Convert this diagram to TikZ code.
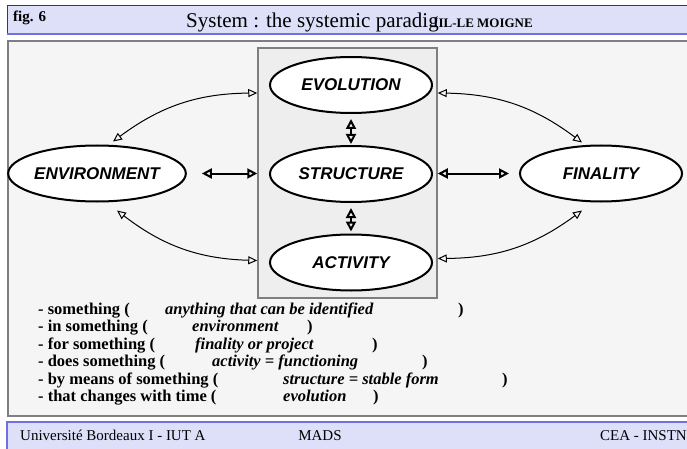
\documentclass[tikz,border=0pt]{standalone}
\usepackage{fontspec}
\setmainfont{Liberation Serif}
\newfontfamily\arialf{Liberation Sans}
\usetikzlibrary{arrows.meta,shapes.geometric}
\definecolor{hdrfill}{HTML}{DDE0F8}
\definecolor{hdrtop}{HTML}{2828E0}
\definecolor{hdrbot}{HTML}{7070E0}
\definecolor{panelfill}{HTML}{F5F5F5}
\definecolor{boxfill}{HTML}{EEEEEE}
\definecolor{bordergray}{HTML}{7F7F7F}
\tikzset{
  ell/.style={ellipse, draw=black, line width=2pt, fill=white, minimum width=162pt, minimum height=56pt, inner sep=0pt,
    font=\arialf\bfseries\itshape\fontsize{17}{20}\selectfont},
  innerbox/.style={rectangle, draw=bordergray, line width=1.5pt, fill=boxfill, minimum width=179pt, minimum height=250pt, inner sep=0pt},
  thickarr/.style={line width=2pt, {Triangle[open,length=10pt,width=10pt]}-{Triangle[open,length=10pt,width=10pt]}},
  thinarr/.style={line width=1pt, {Triangle[open,length=9pt,width=8pt]}-{Triangle[open,length=9pt,width=8pt]}},
  listb/.style={anchor=base west, inner sep=0pt, font=\bfseries\fontsize{16.5}{18}\selectfont},
  listi/.style={anchor=base west, inner sep=0pt, font=\bfseries\itshape\fontsize{16.5}{18}\selectfont},
  foot/.style={inner sep=0pt, font=\fontsize{15}{18}\selectfont},
}
\begin{document}
\begin{tikzpicture}[x=1pt,y=-1pt]
\useasboundingbox (0,0) rectangle (687,449);
\fill[white] (0,0) rectangle (687,449);
% header band
\fill[hdrfill] (7,6) rectangle (700,34);
\draw[hdrtop, line width=1pt] (700,6) -- (7,6) -- (7,34);
\draw[hdrbot, line width=2pt] (7,34) -- (700,34);
% main panel
\draw[bordergray, fill=panelfill, line width=2pt] (8,41) rectangle (700,416);
% footer band
\fill[hdrfill] (7,422) rectangle (700,460);
\draw[hdrbot, line width=1.5pt] (700,422) -- (7,422) -- (7,460);

% header texts
\node[anchor=base west, inner sep=0pt, font=\bfseries\fontsize{15}{18}\selectfont] (fig) at (13,22) {fig. 6};
\node[anchor=base west, inner sep=0pt, font=\fontsize{21}{24}\selectfont] (title) at (186,28) {System : the systemic paradig};
\node[anchor=base east, inner sep=0pt, font=\bfseries\fontsize{13}{15}\selectfont] (author) at (533,28) {IIL-LE MOIGNE};

% inner box and ellipses
\node[innerbox] (box) at (347.5,173) {};
\node[ell] (evol) at (351,85) {EVOLUTION};
\node[ell] (struct) at (351,174) {STRUCTURE};
\node[ell] (act) at (351,262.5) {ACTIVITY};
\node[ell] (env) at (97,173.5) {ENVIRONMENT};
\node[ell] (fin) at (601,173.5) {FINALITY};

% straight arrows
\draw[thickarr] ([xshift=15pt]env.east) -- (box.west |- env.east);
\draw[thickarr] (box.east |- fin.west) -- ([xshift=-10pt]fin.west);
\draw[thickarr] ([yshift=-5pt]evol.south) -- ([yshift=1pt]struct.north);
\draw[thickarr] ([yshift=-5pt]struct.south) -- ([yshift=2pt]act.north);

% curved arrows
\draw[thinarr] ([shift={(16,-3)}]env.north) to[bend left=18] ([yshift=-8pt]box.west |- evol.center);
\draw[thinarr] ([shift={(20,8)}]env.south) to[bend right=18] ([yshift=2pt]box.west |- act.center);
\draw[thinarr] ([yshift=-8pt]box.east |- evol.center) to[bend left=18] ([shift={(-19,-2)}]fin.north);
\draw[thinarr] ([yshift=4pt]box.east |- act.center) to[bend right=18] ([shift={(-19,8)}]fin.south);

% list
\node[listb] (l1a) at (38,314.5) {- something (};
\node[listi] (l1b) at (165,314.5) {anything that can be identified};
\node[listb] (l1c) at (458,314.5) {)};
\node[listb] (l2a) at (38,331.5) {- in something (};
\node[listi] (l2b) at (192,331.5) {environment};
\node[listb] (l2c) at (307,331.5) {)};
\node[listb] (l3a) at (38,349.5) {- for something (};
\node[listi] (l3b) at (195,349.5) {finality or project};
\node[listb] (l3c) at (372,349.5) {)};
\node[listb] (l4a) at (38,366.5) {- does something (};
\node[listi] (l4b) at (212,366.5) {activity = functioning};
\node[listb] (l4c) at (422,366.5) {)};
\node[listb] (l5a) at (38,384.5) {- by means of something (};
\node[listi] (l5b) at (283,384.5) {structure = stable form};
\node[listb] (l5c) at (502,384.5) {)};
\node[listb] (l6a) at (38,401.5) {- that changes with time (};
\node[listi] (l6b) at (283,401.5) {evolution};
\node[listb] (l6c) at (373,401.5) {)};

% footer texts
\node[foot, anchor=base west] (f1) at (20,440) {Université Bordeaux I - IUT A};
\node[foot, anchor=base] (f2) at (320,440) {MADS};
\node[foot, anchor=base east] (f3) at (687,440) {CEA - INSTN};
\end{tikzpicture}
\end{document}
